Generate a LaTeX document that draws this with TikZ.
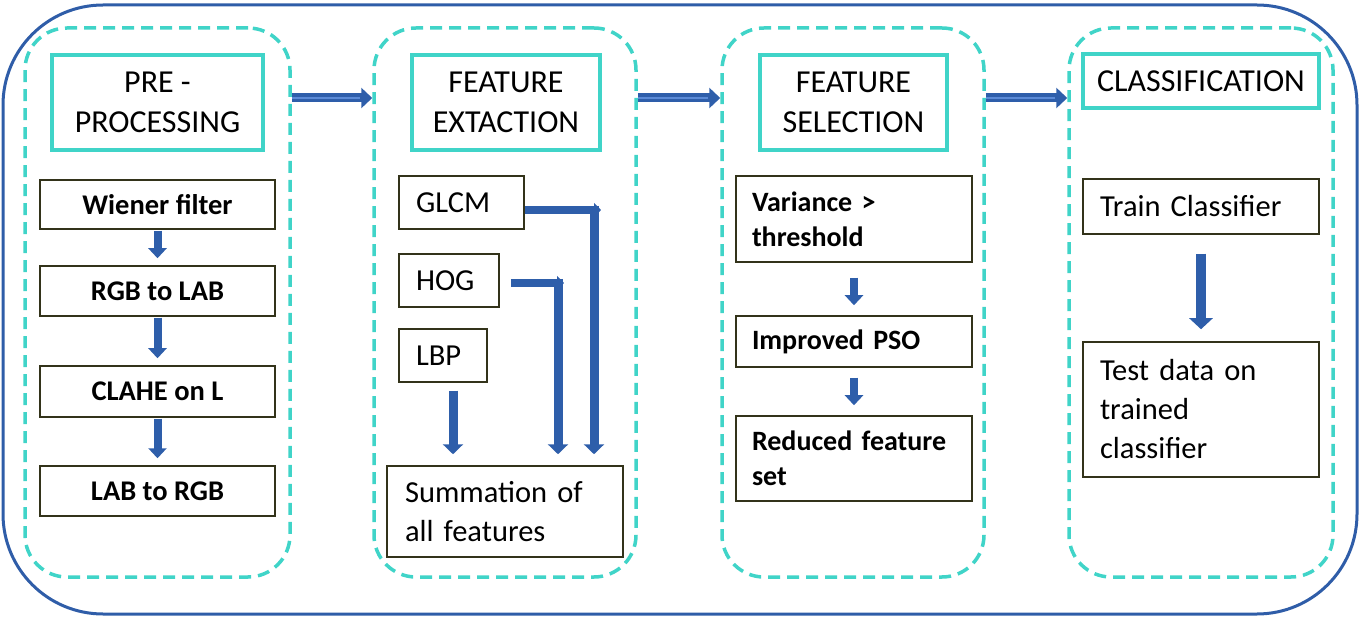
\documentclass[tikz,border=0pt]{standalone}
\usepackage{fontspec}
\setmainfont{Carlito}
\usetikzlibrary{arrows.meta}
\definecolor{outerblue}{HTML}{2F5DA8}
\definecolor{turq}{HTML}{40D4C8}
\definecolor{arrowblue}{HTML}{2E5EAA}
\definecolor{arrowlight}{HTML}{5B8AD6}
\definecolor{boxedge}{HTML}{33331A}
\tikzset{
  outerbox/.style={draw=outerblue, line width=3pt, rounded corners=100pt},
  stagebox/.style={draw=turq, line width=3.5pt, dash pattern=on 12pt off 7pt, rounded corners=42pt, inner sep=0pt},
  headbox/.style={draw=turq, line width=3.5pt, inner sep=0pt, align=center, font=\fontsize{32}{40}\selectfont},
  boldbox/.style={draw=boxedge, line width=1.5pt, inner sep=0pt, align=center, font=\bfseries\fontsize{28.5}{35}\selectfont},
  leftbox/.style={draw=boxedge, line width=1.5pt, inner xsep=17pt, inner ysep=0pt, align=left, font=\fontsize{30.5}{39}\selectfont},
  leftbold/.style={draw=boxedge, line width=1.5pt, inner xsep=16pt, inner ysep=0pt, align=left, font=\bfseries\fontsize{28}{35}\selectfont},
  bigarr/.style={draw=arrowblue, line width=9pt, -{Triangle[width=20pt,length=11pt]}},
  highlight/.style={draw=arrowlight, line width=2pt, shorten >=12pt},
  smallarr/.style={draw=arrowblue, line width=8pt, -{Triangle[width=18pt,length=10pt]}},
  exarr/.style={draw=arrowblue, line width=9pt, -{Triangle[width=20pt,length=10pt]}},
  harr/.style={draw=arrowblue, line width=8pt, -{Triangle[width=14pt,length=7pt]}},
}
\begin{document}
\begin{tikzpicture}[x=1pt,y=-1pt]
\useasboundingbox (0,0) rectangle (1363,617);
% outer frame
\draw[outerbox] (3,5) rectangle (1357,614);
% stage containers
\node[stagebox, minimum width=265pt, minimum height=549pt] (s1) at (157.5,302.5) {};
\node[stagebox, minimum width=262pt, minimum height=549pt] (s2) at (505,302.5) {};
\node[stagebox, minimum width=262pt, minimum height=549pt] (s3) at (853,302.5) {};
\node[stagebox, minimum width=264pt, minimum height=549pt] (s4) at (1201,302.5) {};
% headers
\node[headbox, minimum width=211pt, minimum height=95pt] (h1) at (157.5,102.5) {PRE -\\PROCESSING};
\node[headbox, minimum width=188pt, minimum height=95pt] (h2) at (506,102.5) {FEATURE\\EXTACTION};
\node[headbox, minimum width=187pt, minimum height=95pt] (h3) at (853.5,102.5) {FEATURE\\SELECTION};
\node[headbox, minimum width=236pt, minimum height=54pt] (h4) at (1201,81) {CLASSIFICATION};
% stage arrows
\coordinate (lv) at (0,98);
\draw[bigarr] (s1.east |- lv) -- (s2.west |- lv);
\draw[bigarr] (s2.east |- lv) -- (s3.west |- lv);
\draw[bigarr] (s3.east |- lv) -- (s4.west |- lv);
\draw[highlight] (s1.east |- lv) -- (s2.west |- lv);
\draw[highlight] (s2.east |- lv) -- (s3.west |- lv);
\draw[highlight] (s3.east |- lv) -- (s4.west |- lv);
% pre-processing
\node[boldbox, minimum width=235pt, minimum height=49pt] (w1) at (157.5,204.5) {Wiener filter};
\node[boldbox, minimum width=235pt, minimum height=50pt] (w2) at (157.5,291) {RGB to LAB};
\node[boldbox, minimum width=235pt, minimum height=51pt] (w3) at (157.5,391.5) {CLAHE on L};
\node[boldbox, minimum width=235pt, minimum height=50pt] (w4) at (157.5,491) {LAB to RGB};
\draw[smallarr, shorten <=1pt, shorten >=7pt] (w1) -- (w2);
\draw[smallarr, shorten <=1pt, shorten >=7pt] (w2) -- (w3);
\draw[smallarr, shorten <=1pt, shorten >=7pt] (w3) -- (w4);
% feature extraction
\node[leftbox, text width=91pt, minimum height=53pt] (glcm) at (461.5,202.5) {GLCM};
\node[leftbox, text width=66pt, minimum height=53pt] (hog) at (449,280.5) {HOG};
\node[leftbox, text width=54pt, minimum height=53pt] (lbp) at (443,355.5) {LBP};
\node[leftbox, inner xsep=18pt, text width=200pt, minimum height=91pt] (sum) at (505,511.5) {Summation of\\all features};
\coordinate (gc) at (594,210);
\coordinate (gt) at (601,210);
\coordinate (hc) at (558,283);
\coordinate (ht) at (564,283);
\coordinate (lc) at (453,390);
\draw[harr] (glcm.east |- gc) -- (gt);
\draw[exarr, shorten <=-4pt, shorten >=11pt] (gc) -- (gc |- sum.north);
\draw[harr, shorten <=11pt] (hog.east |- hc) -- (ht);
\draw[exarr, shorten <=-4pt, shorten >=11pt] (hc) -- (hc |- sum.north);
\draw[exarr, shorten <=8pt, shorten >=11pt] (lbp.south -| lc) -- (lc |- sum.north);
% feature selection
\node[leftbold, text width=204pt, minimum height=86pt] (var) at (854,219) {Variance >\\threshold};
\node[leftbold, text width=204pt, minimum height=51pt] (pso) at (854,341.5) {Improved PSO};
\node[leftbold, text width=204pt, minimum height=85pt] (red) at (854,458.5) {Reduced feature\\set};
\draw[smallarr, shorten <=15pt, shorten >=10pt] (var) -- (pso);
\draw[smallarr, shorten <=10pt, shorten >=10pt] (pso) -- (red);
% classification
\node[leftbox, text width=202pt, minimum height=55pt] (train) at (1201,206.5) {Train Classifier};
\node[leftbox, text width=202pt, minimum height=135pt] (test) at (1201,409.5) {Test data on\\trained\\classifier};
\draw[draw=arrowblue, line width=10pt, -{Triangle[width=23pt,length=11pt]}, shorten <=19pt, shorten >=12pt] (train) -- (test);
\end{tikzpicture}
\end{document}
